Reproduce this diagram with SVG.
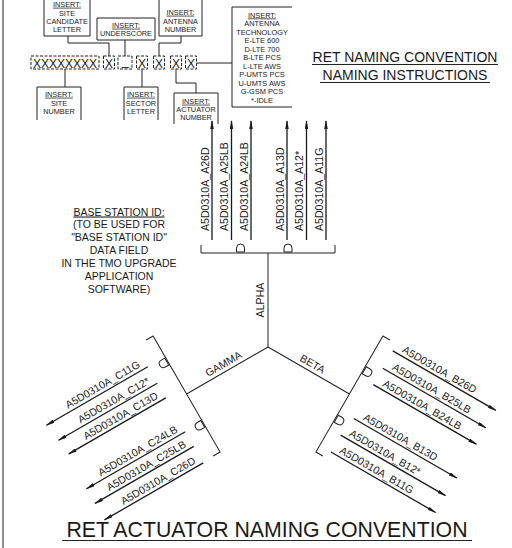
<svg xmlns="http://www.w3.org/2000/svg" width="512" height="548" viewBox="0 0 512 548">
<defs>
<style>
.ln{fill:none;stroke:#222;stroke-width:1}
.dash{fill:none;stroke:#222;stroke-width:1;stroke-dasharray:3,1.5}
.t{font-family:"Liberation Sans",Arial,sans-serif;fill:#1a1a1a;text-anchor:middle}
.s7{font-size:7.3px}
.s7b{font-size:7.4px}
.x{font-size:12px}
.lab{font-family:"Liberation Sans",Arial,sans-serif;fill:#1a1a1a;font-size:10.6px}
.arr{fill:none;stroke:#1a1a1a;stroke-width:1.3;marker-end:url(#ah)}
.u{text-decoration:underline}
</style>
<marker id="ah" viewBox="0 0 10 4" refX="9" refY="2" markerWidth="9" markerHeight="3.6" markerUnits="userSpaceOnUse" orient="auto">
<path d="M0,0 L10,2 L0,4 Z" fill="#1a1a1a"/>
</marker>
<path id="dsym" d="M-4,-95 V-99 Q-4,-103 0,-103 Q4,-103 4,-99 V-95 Z" fill="none" stroke="#222" stroke-width="1"/>
</defs>

<line class="ln" x1="3" y1="0" x2="3" y2="548"/>

<g id="connectors">
<path class="ln" d="M68,36 V43 H109 V56"/>
<path class="ln" d="M125,40 V56"/>
<path class="ln" d="M181,36 V43 H159 V56"/>
<path class="ln" d="M65,69 V87"/>
<path class="ln" d="M142,69 V87"/>
<path class="ln" d="M176,69 V83 H196 V93"/>
<path class="ln" d="M196.5,63 H232"/>
</g>

<g id="code">
<rect class="dash" x="31" y="56" width="68" height="13"/>
<text class="t x" x="65" y="67.5">XXXXXXXX</text>
<rect class="dash" x="103.5" y="56" width="11" height="13"/>
<text class="t x" x="109" y="67.5">X</text>
<rect class="dash" x="118" y="56" width="14" height="13"/>
<text class="t x" x="125" y="65">_</text>
<rect class="dash" x="136.5" y="56" width="11" height="13"/>
<text class="t x" x="142" y="67.5">X</text>
<rect class="dash" x="153.5" y="56" width="11" height="13"/>
<text class="t x" x="159" y="67.5">X</text>
<rect class="dash" x="170.5" y="56" width="11" height="13"/>
<text class="t x" x="176" y="67.5">X</text>
<rect class="dash" x="185.5" y="56" width="11" height="13"/>
<text class="t x" x="191" y="67.5">X</text>
</g>

<g id="site-candidate">
<path class="ln" d="M44,0 V36 H90 V0"/>
<text class="t s7 u" x="67" y="6.7">INSERT:</text>
<text class="t s7" x="67" y="15.7">SITE</text>
<text class="t s7" x="67" y="23.7">CANDIDATE</text>
<text class="t s7" x="67" y="31.7">LETTER</text>
</g>

<g id="underscore">
<path class="ln" d="M97,18 V40 H155 V18 Z"/>
<text class="t s7 u" x="126" y="27.7">INSERT:</text>
<text class="t s7" x="126" y="36">UNDERSCORE</text>
</g>

<g id="antenna-number">
<path class="ln" d="M159,0 V36 H202 V0"/>
<text class="t s7 u" x="180.5" y="14.7">INSERT:</text>
<text class="t s7" x="180.5" y="23.7">ANTENNA</text>
<text class="t s7" x="180.5" y="31.7">NUMBER</text>
</g>

<g id="antenna-technology">
<path class="ln" d="M292,7 H232 V107 H292"/>
<text class="t s7b u" x="262" y="17.5">INSERT:</text>
<text class="t s7b" x="262" y="26">ANTENNA</text>
<text class="t s7b" x="262" y="34.5">TECHNOLOGY</text>
<text class="t s7b" x="262" y="43">E-LTE 600</text>
<text class="t s7b" x="262" y="51.5">D-LTE 700</text>
<text class="t s7b" x="262" y="60">B-LTE PCS</text>
<text class="t s7b" x="262" y="68.5">L-LTE AWS</text>
<text class="t s7b" x="262" y="77">P-UMTS PCS</text>
<text class="t s7b" x="262" y="85.5">U-UMTS AWS</text>
<text class="t s7b" x="262" y="94">G-GSM PCS</text>
<text class="t s7b" x="262" y="102.5">*-IDLE</text>
</g>

<g id="site-number">
<path class="ln" d="M37,120 V87 H81 V120"/>
<text class="t s7 u" x="59" y="96.7">INSERT:</text>
<text class="t s7" x="59" y="105.7">SITE</text>
<text class="t s7" x="59" y="114.2">NUMBER</text>
</g>

<g id="sector-letter">
<path class="ln" d="M124,120 V87 H158 V120"/>
<text class="t s7 u" x="141" y="96.7">INSERT:</text>
<text class="t s7" x="141" y="105.7">SECTOR</text>
<text class="t s7" x="141" y="114.2">LETTER</text>
</g>

<g id="actuator-number">
<path class="ln" d="M174,124 V93 H218 V124"/>
<text class="t s7 u" x="196" y="103.7">INSERT:</text>
<text class="t s7" x="196" y="111.7">ACTUATOR</text>
<text class="t s7" x="196" y="119.7">NUMBER</text>
</g>

<g id="title-top">
<text class="t" style="font-size:14px" x="405" y="62">RET NAMING CONVENTION</text>
<line class="ln" x1="312" y1="64.5" x2="498" y2="64.5"/>
<text class="t" style="font-size:14px" x="405" y="80">NAMING INSTRUCTIONS</text>
<line class="ln" x1="320" y1="82.5" x2="490" y2="82.5"/>
</g>

<g id="base-station-note">
<text class="t u" style="font-size:10.5px" x="119" y="215.5">BASE STATION ID:</text>
<text class="t" style="font-size:10.5px" x="119" y="228.4">(TO BE USED FOR</text>
<text class="t" style="font-size:10.5px" x="119" y="241.3">"BASE STATION ID"</text>
<text class="t" style="font-size:10.5px" x="119" y="254.2">DATA FIELD</text>
<text class="t" style="font-size:10.5px" x="119" y="267.1">IN THE TMO UPGRADE</text>
<text class="t" style="font-size:10.5px" x="119" y="280">APPLICATION</text>
<text class="t" style="font-size:10.5px" x="119" y="292.9">SOFTWARE)</text>
</g>

<g id="alpha" transform="translate(268,347)">
<path class="ln" d="M0,0 V-94 M-67,-102 V-94 H67 V-102"/>
<use href="#dsym" x="-27.5"/>
<use href="#dsym" x="20"/>
<text class="lab" transform="translate(-4,-47) rotate(-90)" text-anchor="middle">ALPHA</text>
<line class="arr" x1="-56" y1="-107" x2="-56" y2="-226"/>
<line class="arr" x1="-36.5" y1="-107" x2="-36.5" y2="-226"/>
<line class="arr" x1="-17" y1="-107" x2="-17" y2="-226"/>
<line class="arr" x1="19" y1="-107" x2="19" y2="-226"/>
<line class="arr" x1="38.5" y1="-107" x2="38.5" y2="-226"/>
<line class="arr" x1="58" y1="-107" x2="58" y2="-226"/>
<text class="lab" transform="translate(-59.5,-116) rotate(-90)">A5D0310A_A26D</text>
<text class="lab" transform="translate(-40,-116) rotate(-90)">A5D0310A_A25LB</text>
<text class="lab" transform="translate(-20.5,-116) rotate(-90)">A5D0310A_A24LB</text>
<text class="lab" transform="translate(15.5,-116) rotate(-90)">A5D0310A_A13D</text>
<text class="lab" transform="translate(35,-116) rotate(-90)">A5D0310A_A12*</text>
<text class="lab" transform="translate(54.5,-116) rotate(-90)">A5D0310A_A11G</text>
</g>

<g id="beta" transform="translate(268,347) rotate(120)">
<path class="ln" d="M0,0 V-94 M-67,-102 V-94 H67 V-102"/>
<use href="#dsym" x="-28"/>
<use href="#dsym" x="28"/>
<text class="lab" transform="translate(-4,-47) rotate(-90)" text-anchor="middle">BETA</text>
<line class="arr" x1="-59" y1="-110" x2="-59" y2="-229"/>
<line class="arr" x1="-39" y1="-110" x2="-39" y2="-229"/>
<line class="arr" x1="-20" y1="-110" x2="-20" y2="-229"/>
<line class="arr" x1="19" y1="-110" x2="19" y2="-229"/>
<line class="arr" x1="40" y1="-107" x2="40" y2="-228"/>
<line class="arr" x1="59.5" y1="-107" x2="59.5" y2="-228"/>
<text class="lab" transform="translate(-62.5,-118) rotate(-90)">A5D0310A_B26D</text>
<text class="lab" transform="translate(-42.5,-118) rotate(-90)">A5D0310A_B25LB</text>
<text class="lab" transform="translate(-23.5,-118) rotate(-90)">A5D0310A_B24LB</text>
<text class="lab" transform="translate(15.5,-118) rotate(-90)">A5D0310A_B13D</text>
<text class="lab" transform="translate(36.5,-114) rotate(-90)">A5D0310A_B12*</text>
<text class="lab" transform="translate(56,-114) rotate(-90)">A5D0310A_B11G</text>
</g>

<g id="gamma" transform="translate(268,347) rotate(240)">
<path class="ln" d="M0,0 V-94 M-67,-102 V-94 H67 V-102"/>
<use href="#dsym" x="38"/>
<use href="#dsym" x="-34"/>
<text class="lab" transform="translate(4,-47) rotate(90)" text-anchor="middle">GAMMA</text>
<line class="arr" x1="43" y1="-114" x2="43" y2="-231"/>
<line class="arr" x1="24" y1="-114" x2="24" y2="-228"/>
<line class="arr" x1="7" y1="-114" x2="7" y2="-226"/>
<line class="arr" x1="-32" y1="-114" x2="-32" y2="-228"/>
<line class="arr" x1="-49" y1="-114" x2="-49" y2="-228"/>
<line class="arr" x1="-68" y1="-114" x2="-68" y2="-228"/>
<text class="lab" transform="translate(46.5,-120) rotate(90)" text-anchor="end">A5D0310A_C11G</text>
<text class="lab" transform="translate(27.5,-120) rotate(90)" text-anchor="end">A5D0310A_C12*</text>
<text class="lab" transform="translate(10.5,-120) rotate(90)" text-anchor="end">A5D0310A_C13D</text>
<text class="lab" transform="translate(-28.5,-120) rotate(90)" text-anchor="end">A5D0310A_C24LB</text>
<text class="lab" transform="translate(-45.5,-120) rotate(90)" text-anchor="end">A5D0310A_C25LB</text>
<text class="lab" transform="translate(-64.5,-120) rotate(90)" text-anchor="end">A5D0310A_C26D</text>
</g>

<g id="title-bottom">
<text class="t" style="font-size:21.3px" x="267" y="536.5">RET ACTUATOR NAMING CONVENTION</text>
<line class="ln" x1="62" y1="540.5" x2="472" y2="540.5"/>
</g>
</svg>
